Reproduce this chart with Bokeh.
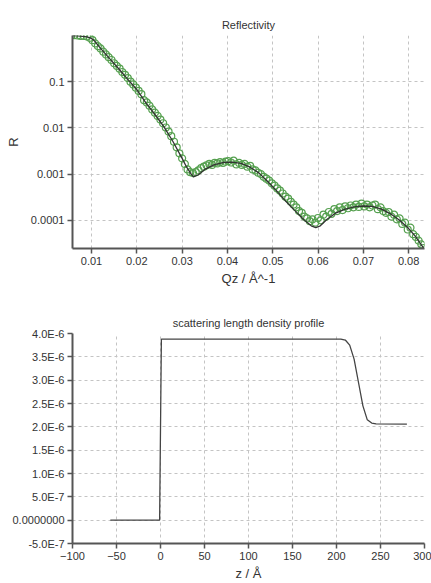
from bokeh.plotting import figure
from bokeh.layouts import column
from bokeh.models import FixedTicker, CustomJSTickFormatter, Range1d
from bokeh.embed import file_html
from bokeh.resources import INLINE

# ---- Reflectivity data ----
q_data = [0.0055, 0.0062, 0.0069, 0.0076, 0.0083, 0.0090, 0.0096, 0.0102, 0.0108, 0.0114,
          0.0120, 0.0126, 0.0132, 0.0138, 0.0144, 0.0150, 0.0156, 0.0162, 0.0168, 0.0174,
          0.0180, 0.0186, 0.0192, 0.0198, 0.0204, 0.0210, 0.0216, 0.0222, 0.0228, 0.0234,
          0.0240, 0.0246, 0.0252, 0.0258, 0.0264, 0.0270, 0.0276, 0.0282, 0.0288, 0.0294,
          0.0300, 0.0306, 0.0312, 0.0318, 0.0324, 0.0330, 0.0336, 0.0342, 0.0348, 0.0354,
          0.0360, 0.0366, 0.0372, 0.0378, 0.0384, 0.0390, 0.0396, 0.0402, 0.0408, 0.0414,
          0.0420, 0.0426, 0.0432, 0.0438, 0.0444, 0.0450, 0.0456, 0.0462, 0.0468, 0.0474,
          0.0480, 0.0486, 0.0492, 0.0498, 0.0504, 0.0510, 0.0516, 0.0522, 0.0528, 0.0534,
          0.0540, 0.0546, 0.0552, 0.0558, 0.0564, 0.0570, 0.0576, 0.0582, 0.0588, 0.0594,
          0.0600, 0.0606, 0.0612, 0.0618, 0.0624, 0.0630, 0.0636, 0.0642, 0.0648, 0.0654,
          0.0660, 0.0666, 0.0672, 0.0678, 0.0684, 0.0690, 0.0696, 0.0702, 0.0708, 0.0714,
          0.0720, 0.0726, 0.0732, 0.0738, 0.0744, 0.0750, 0.0756, 0.0762, 0.0768, 0.0774,
          0.0780, 0.0786, 0.0792, 0.0798, 0.0804, 0.0810, 0.0816, 0.0822, 0.0828, 0.0832]
R_data = [1.0, 1.02, 1.0, 0.977, 0.977, 0.955, 0.891, 0.794, 0.676, 0.589,
          0.525, 0.447, 0.389, 0.339, 0.295, 0.251, 0.219, 0.191, 0.162, 0.141,
          0.120, 0.100, 0.0871, 0.0741, 0.0631, 0.0537, 0.0398, 0.0355, 0.0302, 0.0251,
          0.0214, 0.0182, 0.0151, 0.0126, 0.0102, 0.00832, 0.00661, 0.00501, 0.00380, 0.00282,
          0.00219, 0.00166, 0.00126, 0.00110, 0.00105, 0.00110, 0.00120, 0.00135, 0.00145, 0.00155,
          0.00166, 0.00158, 0.00174, 0.00170, 0.00182, 0.00174, 0.00186, 0.00191, 0.00178, 0.00195,
          0.00162, 0.00174, 0.00158, 0.00166, 0.00145, 0.00151, 0.00126, 0.00120, 0.00107, 0.00100,
          0.000871, 0.000794, 0.000724, 0.000631, 0.000562, 0.000490, 0.000437, 0.000380, 0.000324, 0.000295,
          0.000251, 0.000219, 0.000191, 0.000158, 0.000145, 0.000120, 0.000110, 0.0000955, 0.000105, 0.0000891,
          0.000112, 0.000100, 0.000132, 0.000120, 0.000151, 0.000138, 0.000174, 0.000158, 0.000191, 0.000166,
          0.000200, 0.000182, 0.000209, 0.000191, 0.000219, 0.000195, 0.000229, 0.000200, 0.000219, 0.000191,
          0.000209, 0.000219, 0.000174, 0.000191, 0.000158, 0.000145, 0.000151, 0.000120, 0.000132, 0.000105,
          0.000110, 0.0000832, 0.0000891, 0.0000631, 0.0000692, 0.0000501, 0.0000437, 0.0000363, 0.0000302, 0.0000251]

# ---- Model curve ----
q_fit = [0.0052, 0.0070, 0.0090, 0.0097, 0.0105, 0.0120, 0.0140, 0.0160, 0.0180, 0.0200,
         0.0220, 0.0240, 0.0260, 0.0280, 0.0300, 0.0310, 0.0320, 0.0325, 0.0335, 0.0350,
         0.0370, 0.0390, 0.0410, 0.0430, 0.0450, 0.0470, 0.0490, 0.0510, 0.0530, 0.0550,
         0.0570, 0.0585, 0.0595, 0.0605, 0.0620, 0.0640, 0.0660, 0.0680, 0.0700, 0.0720,
         0.0740, 0.0760, 0.0780, 0.0800, 0.0815, 0.0833]
R_fit = [1.0, 0.977, 0.933, 0.891, 0.794, 0.525, 0.316, 0.191, 0.112, 0.0676,
         0.0347, 0.0195, 0.0105, 0.00501, 0.00219, 0.00141, 0.00100, 0.000871, 0.000955, 0.00126,
         0.00158, 0.00178, 0.00182, 0.00170, 0.00141, 0.00105, 0.000676, 0.000417, 0.000251, 0.000158,
         0.000100, 0.0000759, 0.0000692, 0.0000759, 0.000105, 0.000145, 0.000174, 0.000195, 0.000204, 0.000200,
         0.000174, 0.000138, 0.000100, 0.0000661, 0.0000447, 0.0000251]

# ---- SLD profile ----
z_sld = [-57, -1, 1, 100, 205, 210, 215, 220, 225, 230, 235, 240, 245, 280]
sld = [0.0, 0.0, 3.88e-6, 3.88e-6, 3.88e-6, 3.86e-6, 3.75e-6, 3.45e-6, 2.95e-6, 2.45e-6,
       2.15e-6, 2.08e-6, 2.065e-6, 2.06e-6]

q_ticks = [0.01, 0.02, 0.03, 0.04, 0.05, 0.06, 0.07, 0.08]
R_ticks = [0.0001, 0.001, 0.01, 0.1]
z_ticks = [-100, -50, 0, 50, 100, 150, 200, 250, 300]
sld_ticks = [-5e-7, 0.0, 5e-7, 1.0e-6, 1.5e-6, 2.0e-6, 2.5e-6, 3.0e-6, 3.5e-6, 4.0e-6]

FONT = "Liberation Sans"
AXIS_COL = "#555555"
TXT_COL = "#333333"
GRID_COL = "#c4c4c4"


def style(p):
    p.outline_line_color = None
    p.title.text_font = FONT
    p.title.text_font_size = "11px"
    p.title.text_font_style = "normal"
    p.title.text_color = TXT_COL
    p.title.align = "center"
    p.title.standoff = 10
    for ax in (p.xaxis[0], p.yaxis[0]):
        ax.axis_line_color = AXIS_COL
        ax.axis_line_width = 2
        ax.major_tick_line_color = AXIS_COL
        ax.major_tick_line_width = 1.5
        ax.major_tick_out = 5
        ax.major_tick_in = 0
        ax.minor_tick_line_color = None
        ax.major_label_text_font = FONT
        ax.major_label_text_font_size = "11px"
        ax.major_label_text_color = TXT_COL
        ax.major_label_standoff = 3
        ax.axis_label_text_font = FONT
        ax.axis_label_text_font_size = "13px"
        ax.axis_label_text_font_style = "normal"
        ax.axis_label_text_color = TXT_COL
        ax.axis_label_standoff = 3
    for g in (p.xgrid[0], p.ygrid[0]):
        g.grid_line_color = GRID_COL
        g.grid_line_dash = "3 3"
        g.grid_line_width = 1


p1 = figure(width=431, height=295, y_axis_type="log",
            x_range=Range1d(0.0058, 0.0835), y_range=Range1d(2.45e-5, 1.0),
            title="Reflectivity", output_backend="svg", toolbar_location=None,
            min_border_left=70, min_border_right=7, min_border_top=35, min_border_bottom=47)
p1.scatter(q_data, R_data, marker="circle", size=7, fill_alpha=0,
           line_color="#55a04f", line_width=1.2)
p1.line(q_fit, R_fit, line_color="#333333", line_width=1.3)
p1.xaxis.axis_label = "Qz / Å^-1"
p1.yaxis.axis_label = "R"
p1.xaxis.ticker = FixedTicker(ticks=q_ticks)
p1.yaxis.ticker = FixedTicker(ticks=R_ticks)
p1.yaxis.formatter = CustomJSTickFormatter(code="return parseFloat(tick.toPrecision(3)).toString();")
style(p1)
p1.yaxis.axis_label_standoff = 7

p2 = figure(width=431, height=288,
            x_range=Range1d(-100, 300), y_range=Range1d(-5e-7, 4e-6),
            title="scattering length density profile", output_backend="svg", toolbar_location=None,
            min_border_left=72, min_border_right=6, min_border_top=38, min_border_bottom=35)
p2.line(z_sld, sld, line_color="#444444", line_width=1.3)
p2.xaxis.axis_label = "z / Å"
p2.xaxis.ticker = FixedTicker(ticks=z_ticks)
p2.yaxis.ticker = FixedTicker(ticks=sld_ticks)
p2.yaxis.formatter = CustomJSTickFormatter(code="""
if (Math.abs(tick) < 1e-12) { return "0.0000000"; }
const e = Math.floor(Math.log10(Math.abs(tick)) + 1e-9);
const m = tick / Math.pow(10, e);
return m.toFixed(1) + "E" + e;
""")
style(p2)

layout = column(p1, p2)
open("out.html", "w").write(file_html(layout, INLINE))
